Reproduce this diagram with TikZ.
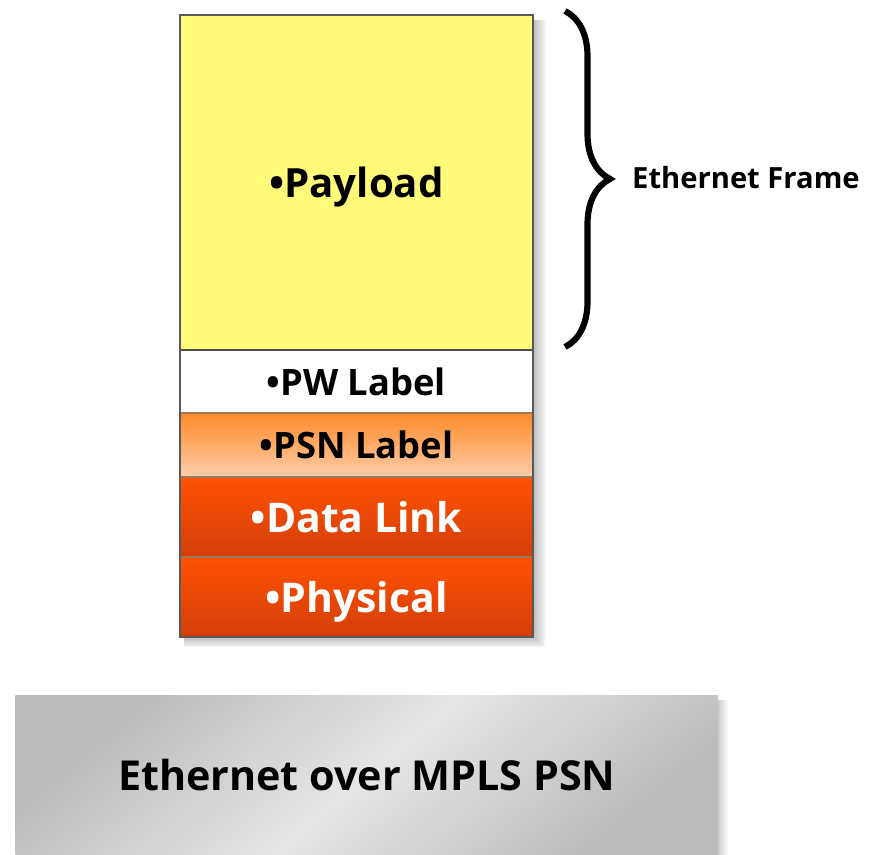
\documentclass[tikz,border=0pt]{standalone}
\usepackage{fontspec}
\setmainfont{Open Sans}
\usetikzlibrary{positioning,decorations.pathreplacing,calc}
\definecolor{payc}{HTML}{FFFB78}
\definecolor{edgec}{HTML}{9C7A5A}
\definecolor{psntop}{HTML}{FF8A28}
\definecolor{psnbot}{HTML}{FDCDAA}
\definecolor{lnktop}{HTML}{FF5204}
\definecolor{lnkbot}{HTML}{D33E08}
\definecolor{boxdark}{HTML}{BBBBBB}
\definecolor{boxlight}{HTML}{E6E6E6}
\tikzset{
  layer/.style={draw=edgec, line width=1.2pt, minimum width=7.06cm, inner sep=0pt, outer sep=0pt,
    text depth=0pt, font=\bfseries\fontsize{20.7}{24}\selectfont},
  paylayer/.style={layer, fill=payc, minimum height=6.7cm, font=\bfseries\fontsize{22.9}{26}\selectfont},
  pwlayer/.style={layer, fill=white, draw=black!70, minimum height=1.26cm},
  psnlayer/.style={layer, top color=psntop, bottom color=psnbot, minimum height=1.28cm},
  lnklayer/.style={layer, top color=lnktop, bottom color=lnkbot, minimum height=1.6cm,
    text=white, font=\bfseries\fontsize{23.3}{26}\selectfont},
  softshade/.style={fill=black, opacity=.035},
  bracket/.style={decorate, decoration={brace, mirror, amplitude=0.9cm}},
}
\begin{document}
\begin{tikzpicture}[x=0.02cm, y=-0.02cm]
  \useasboundingbox (0,0) rectangle (869,855);
  % soft shadows
  \foreach \d in {1,...,8} \fill[softshade] (184,20) rectangle (533+\d*1.6, 637+\d*1.3);
  \foreach \d in {1,...,6} \fill[softshade] (20,700) rectangle (718+\d*1.6, 855);
  % layer stack
  \node[paylayer, anchor=north west] (pay) at (180,15) {•Payload};
  \node[pwlayer, below=0pt of pay] (pw) {•PW Label};
  \node[psnlayer, below=0pt of pw] (psn) {•PSN Label};
  \node[lnklayer, below=0pt of psn] (dlink) {•Data Link};
  \node[lnklayer, below=0pt of dlink] (phys) {•Physical};
  \draw[black!65, line width=0.8pt] (pay.north west) rectangle (phys.south east);
  % brace
  \coordinate (brbot) at (565,347);
  \coordinate (brtop) at (565,11);
  \draw[bracket, line width=3.5pt] (brbot) -- (brtop);
  \node[anchor=west, font=\bfseries\fontsize{16.6}{18}\selectfont] (frame) at (626,178) {Ethernet Frame};
  % bottom box
  \node[anchor=north west, minimum width=14.06cm, minimum height=3.2cm, inner sep=0pt,
    top color=boxdark, bottom color=boxdark, middle color=boxlight, shading angle=40,
    font=\bfseries\fontsize{23.5}{28}\selectfont] (eompsn) at (15,695) {Ethernet over MPLS PSN};
\end{tikzpicture}
\end{document}
